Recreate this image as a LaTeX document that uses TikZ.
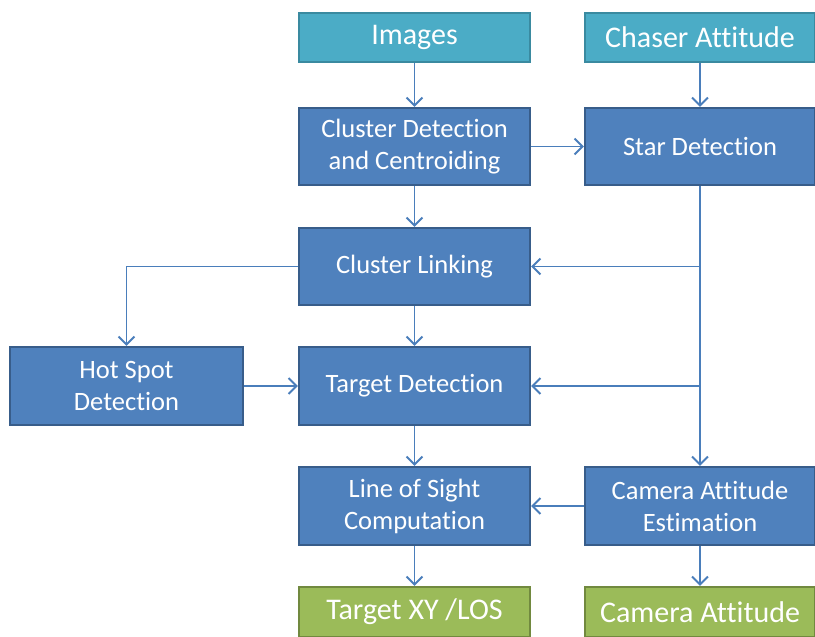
\documentclass[tikz,border=0pt]{standalone}
\usepackage{fontspec}
\setmainfont{Carlito}[Ligatures={NoCommon}]
\usetikzlibrary{arrows.meta}

\definecolor{aquafill}{HTML}{4BACC6}
\definecolor{aqualine}{HTML}{3A8AA0}
\definecolor{bluefill}{HTML}{4F81BD}
\definecolor{blueline}{HTML}{385D8A}
\definecolor{greenfill}{HTML}{9BBB59}
\definecolor{greenline}{HTML}{71893F}
\definecolor{linkcol}{HTML}{4A7EBB}

\tikzset{
  procbox/.style={draw=blueline, fill=bluefill, line width=2.2pt, text=white,
    minimum width=231pt, minimum height=77pt, align=center,
    font=\fontsize{26.5}{32}\selectfont},
  inbox/.style={procbox, draw=aqualine, fill=aquafill, minimum height=49pt,
    font=\fontsize{30}{36}\selectfont},
  outbox/.style={procbox, draw=greenline, fill=greenfill, minimum height=50pt,
    font=\fontsize{30}{36}\selectfont},
  link/.style={draw=linkcol, line width=1.9pt,
    -{Straight Barb[length=8pt,width=16pt,line width=1.9pt]}},
}

\begin{document}
\begin{tikzpicture}[x=1pt, y=-1pt]
\useasboundingbox (0,0) rectangle (815,637);

\node[inbox] (images) at (414.5, 37.5) {Images};
\node[inbox, minimum width=230pt] (chaser) at (700, 37.5) {Chaser Attitude};
\node[procbox] (cluster) at (414.5, 146.5) {Cluster Detection\\and Centroiding};
\node[procbox, minimum width=230pt] (star) at (700, 146.5) {Star Detection};
\node[procbox] (linking) at (414.5, 266.5) {Cluster Linking};
\node[procbox, minimum width=233pt, minimum height=78pt] (hotspot) at (126.5, 386) {Hot Spot\\Detection};
\node[procbox, minimum height=78pt] (target) at (414.5, 386) {Target Detection};
\node[procbox, minimum height=78pt] (los) at (414.5, 506) {Line of Sight\\Computation};
\node[procbox, minimum width=230pt, minimum height=78pt] (camest) at (700, 506) {Camera Attitude\\Estimation};
\node[outbox] (targetxy) at (414.5, 612) {Target XY /LOS};
\node[outbox, minimum width=230pt] (camatt) at (700, 612) {Camera Attitude};

\coordinate (j1) at (star.south |- linking.east);
\coordinate (j2) at (star.south |- target.east);

\draw[link] (images) -- (cluster);
\draw[link] (chaser) -- (star);
\draw[link] (cluster) -- (star);
\draw[link] (cluster) -- (linking);
\draw[link] (star) -- (camest);
\draw[link] (j1) -- (linking);
\draw[link] (linking.west) -| (hotspot.north);
\draw[link] (linking) -- (target);
\draw[link] (hotspot) -- (target);
\draw[link] (j2) -- (target);
\draw[link] (target) -- (los);
\draw[link] (camest) -- (los);
\draw[link] (los) -- (targetxy);
\draw[link] (camest) -- (camatt);
\end{tikzpicture}
\end{document}
